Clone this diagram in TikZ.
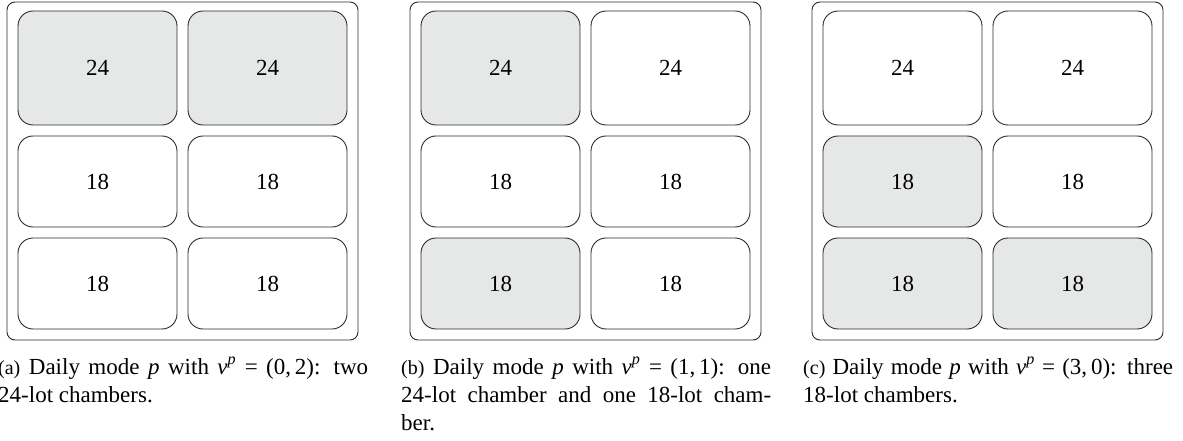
\documentclass[tikz,border=0pt]{standalone}
\usepackage{fontspec}
\setmainfont{Liberation Serif}
\definecolor{chfill}{HTML}{E6E7E7}
\definecolor{chline}{HTML}{2A2A2A}
\begin{document}
\begin{tikzpicture}[x=1pt,y=1pt,
  outerbox/.style={draw=chline, line width=0.9pt, rounded corners=8pt, minimum width=351pt, minimum height=338pt, inner sep=0pt},
  chamber/.style={draw=chline, line width=0.9pt, rounded corners=15pt, minimum width=159pt, inner sep=0pt, font=\fontsize{23}{26}\selectfont},
  bigch/.style={chamber, minimum height=114pt},
  smallch/.style={chamber, minimum height=91pt},
  used/.style={fill=chfill},
  capt/.style={anchor=base west, inner sep=0pt}
]
\useasboundingbox (0,0) rectangle (1183,-441);
\newcommand{\capbox}[2]{\parbox[t]{370pt}{\fontsize{23}{28}\selectfont{\fontsize{20}{28}\selectfont #1} #2}}
% panel a
\node[outerbox] (A) at (182.5,-171) {};
\node[bigch,used] (a11) at (97.5,-68) {24};
\node[bigch,used] (a12) at (267.5,-68) {24};
\node[smallch] (a21) at (97.5,-181.5) {18};
\node[smallch] (a22) at (267.5,-181.5) {18};
\node[smallch] (a31) at (97.5,-283.5) {18};
\node[smallch] (a32) at (267.5,-283.5) {18};
% panel b
\node[outerbox] (B) at (585.5,-171) {};
\node[bigch,used] (b11) at (500.5,-68) {24};
\node[bigch] (b12) at (670.5,-68) {24};
\node[smallch] (b21) at (500.5,-181.5) {18};
\node[smallch] (b22) at (670.5,-181.5) {18};
\node[smallch,used] (b31) at (500.5,-283.5) {18};
\node[smallch] (b32) at (670.5,-283.5) {18};
% panel c
\node[outerbox] (C) at (987.5,-171) {};
\node[bigch] (c11) at (902.5,-68) {24};
\node[bigch] (c12) at (1072.5,-68) {24};
\node[smallch,used] (c21) at (902.5,-181.5) {18};
\node[smallch] (c22) at (1072.5,-181.5) {18};
\node[smallch,used] (c31) at (902.5,-283.5) {18};
\node[smallch,used] (c32) at (1072.5,-283.5) {18};
% captions
\node[capt] (capa) at (-2,-374) {\capbox{(a)}{Daily mode \textit{p} with \textit{v}\textsuperscript{\textit{p}} = (0,\,2): two\linebreak 24-lot chambers.}};
\node[capt] (capb) at (401,-374) {\capbox{(b)}{Daily mode \textit{p} with \textit{v}\textsuperscript{\textit{p}} = (1,\,1): one\linebreak 24-lot chamber and one 18-lot cham-\linebreak ber.}};
\node[capt] (capc) at (803,-374) {\capbox{(c)}{Daily mode \textit{p} with \textit{v}\textsuperscript{\textit{p}} = (3,\,0): three\linebreak 18-lot chambers.}};
\end{tikzpicture}
\end{document}
